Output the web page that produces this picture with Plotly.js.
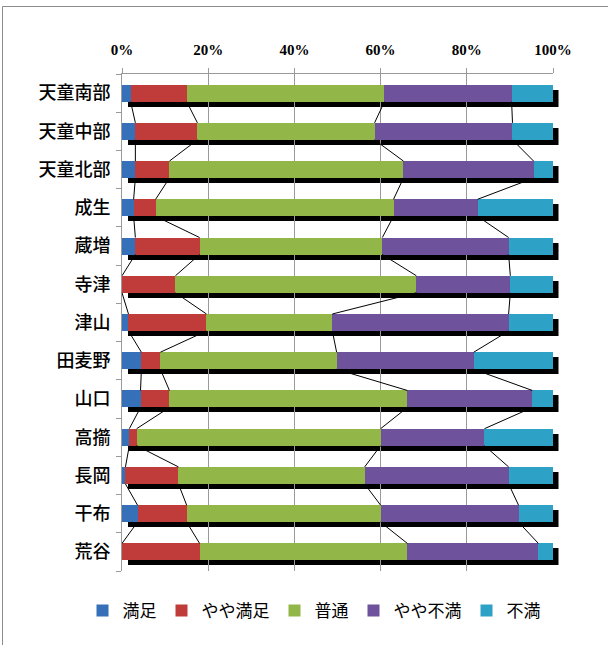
<!DOCTYPE html>
<html>
<head>
<meta charset="utf-8">
<script src="https://cdn.plot.ly/plotly-3.0.1.min.js"></script>
<style>
html,body{margin:0;padding:0;background:#fff;}
#chart{width:608px;height:645px;}
</style>
</head>
<body>
<div id="chart"></div>
<script>
// ---- data ----
var categories = ['天童南部','天童中部','天童北部','成生','蔵増','寺津','津山','田麦野','山口','高擶','長岡','干布','荒谷'];
var seriesNames = ['満足','やや満足','普通','やや不満','不満'];
var manzoku     = [2.0, 3.1, 3.1, 2.7, 3.1, 0.0, 1.5, 4.5, 4.3, 1.7, 0.8, 3.6, 0.0];
var yayaManzoku = [13.0,14.4, 7.9, 5.1,14.9,12.4,18.1, 4.4, 6.7, 1.7,12.3,11.4,18.0];
var futsu       = [45.9,41.1,54.3,55.2,42.4,55.9,29.2,40.9,55.2,56.6,43.2,45.0,48.2];
var yayaFuman   = [29.5,32.0,30.2,19.5,29.3,21.8,40.9,31.8,29.0,24.1,33.4,32.0,30.4];
var fuman       = [9.6, 9.4, 4.5,17.5,10.3, 9.9,10.3,18.4, 4.8,15.9,10.3, 8.0, 3.4];
var xTickVals = [0,20,40,60,80,100];
var xTickText = ['0%','20%','40%','60%','80%','100%'];

// ---- style ----
var colors = ['#3670b8','#c03c3a','#93b648','#6f529c','#2ea2c6'];
var seriesVals = [manzoku, yayaManzoku, futsu, yayaFuman, fuman];
var barW = 0.445;
var L = 122, R = 0, T = 74, B = 60;
var W = 608 - L - R, H = 645 - T - B;
var plotW = 431, plotH = 497, dx = 5.5, dy = 5;

var idx = categories.map(function(_, i){ return i; });
var totals = idx.map(function(i){ return seriesVals.reduce(function(s, a){ return s + a[i]; }, 0); });

var traces = [];

// shadow (first subplot -> drawn underneath)
traces.push({type:'bar', orientation:'h', x:totals, y:idx, width:barW, xaxis:'x', yaxis:'y',
  marker:{color:'#000', line:{width:0}}, showlegend:false, hoverinfo:'skip'});

// bars
for (var s = 0; s < seriesVals.length; s++) {
  traces.push({type:'bar', orientation:'h', name:seriesNames[s], x:seriesVals[s], y:idx,
    width:barW, xaxis:'x2', yaxis:'y2',
    marker:{color:colors[s], line:{width:0}}});
}

// series lines
var cum = idx.map(function(){ return 0; });
for (var k = 0; k < seriesVals.length - 1; k++) {
  cum = cum.map(function(c, i){ return c + seriesVals[k][i]; });
  var lx = [], ly = [];
  for (var i = 0; i < categories.length - 1; i++) {
    lx.push(cum[i], cum[i+1], null);
    ly.push(i + barW/2, i + 1 - barW/2, null);
  }
  traces.push({type:'scatter', mode:'lines', x:lx, y:ly, xaxis:'x2', yaxis:'y2',
    line:{color:'#000', width:1}, showlegend:false, hoverinfo:'skip'});
}

var minorVals = [];
for (var m = 0; m <= categories.length; m++) minorVals.push(m - 0.5);

var hidden = {visible:true, showgrid:false, zeroline:false, showline:false, showticklabels:false, ticks:'', range:[0,100], fixedrange:true};

var layout = {
  width:608, height:645,
  margin:{l:L, r:R, t:T, b:B, pad:0},
  paper_bgcolor:'#fff', plot_bgcolor:'rgba(0,0,0,0)',
  barmode:'stack', bargap:0,
  showlegend:true,
  legend:{orientation:'h', x:(314 - L)/W, xanchor:'center', y:(645 - B - 611)/H, yanchor:'middle',
    font:{family:'"Noto Sans CJK JP", sans-serif', size:17, color:'#000'}, traceorder:'normal', itemwidth:30},
  xaxis:Object.assign({}, hidden, {domain:[dx/W, (plotW+dx)/W], anchor:'y'}),
  yaxis:Object.assign({}, hidden, {domain:[1 - (plotH+dy)/H, 1 - dy/H], range:[categories.length - 0.5, -0.5], anchor:'x'}),
  xaxis2:{domain:[0, plotW/W], anchor:'y2', range:[0,100], side:'top', tickvals:xTickVals, ticktext:xTickText,
    showgrid:true, gridcolor:'#9a9a9a', gridwidth:1, zeroline:false,
    showline:true, linecolor:'#9a9a9a', linewidth:1,
    ticks:'outside', ticklen:5, tickcolor:'#9a9a9a', ticklabelstandoff:7,
    tickfont:{family:'"Liberation Serif", serif', size:15, color:'#000', weight:'bold'}, fixedrange:true},
  yaxis2:{domain:[1 - plotH/H, 1], anchor:'x2', range:[categories.length - 0.5, -0.5], tickvals:idx, ticktext:categories,
    showgrid:false, zeroline:false, showline:true, linecolor:'#9a9a9a', linewidth:1,
    ticks:'', ticklabelstandoff:7,
    minor:{tickvals:minorVals, ticks:'outside', ticklen:5, tickcolor:'#9a9a9a', showgrid:false},
    tickfont:{family:'"Noto Sans CJK JP", sans-serif', size:18, color:'#000', weight:500}, fixedrange:true},
  shapes:[{type:'rect', xref:'paper', yref:'paper', layer:'below',
    x0:(2.5 - L)/W, x1:(640 - L)/W, y0:(645 - B - 660)/H, y1:(645 - B - 6.5)/H,
    line:{color:'#8c8c8c', width:1}, fillcolor:'rgba(0,0,0,0)'}]
};

Plotly.newPlot('chart', traces, layout, {displayModeBar:false, staticPlot:true});
</script>
</body>
</html>
